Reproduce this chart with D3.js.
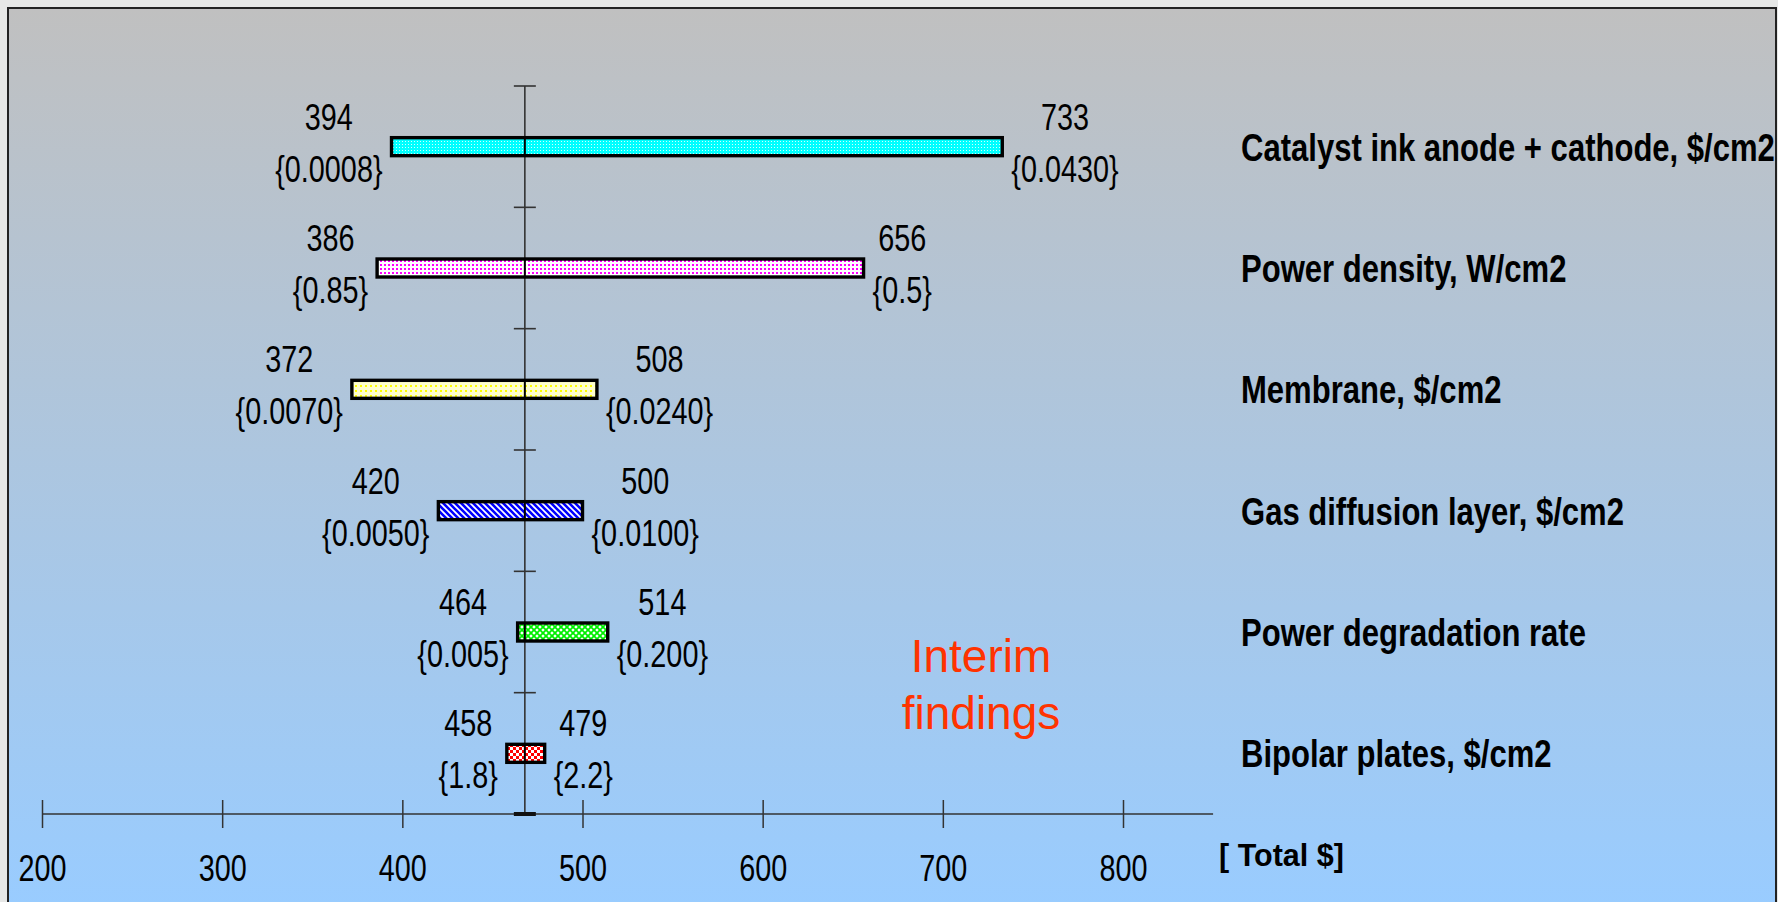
<!DOCTYPE html>
<html>
<head>
<meta charset="utf-8">
<script src="https://cdn.jsdelivr.net/npm/d3@7"></script>
<style>
  html, body { margin: 0; padding: 0; background: #e6e7e6; }
  svg { display: block; }
</style>
</head>
<body>
<svg id="chart"></svg>
<script>
// categories, top to bottom
var categories = ["Catalyst ink anode + cathode, $/cm2", "Power density, W/cm2", "Membrane, $/cm2",
    "Gas diffusion layer, $/cm2", "Power degradation rate", "Bipolar plates, $/cm2"];

// total $ at the low and high end of each input range
var lowValues = [394, 386, 372, 420, 464, 458];
var highValues = [733, 656, 508, 500, 514, 479];

// the input value that gives each end
var lowLabels = ["{0.0008}", "{0.85}", "{0.0070}", "{0.0050}", "{0.005}", "{1.8}"];
var highLabels = ["{0.0430}", "{0.5}", "{0.0240}", "{0.0100}", "{0.200}", "{2.2}"];

var baseValue = 468;
var xTicks = [200, 300, 400, 500, 600, 700, 800];
var axisEnd = 850;

var patternIds = ["pCyan", "pMagenta", "pYellow", "pBlue", "pGreen", "pRed"];

var sans = "'Liberation Sans', Arial, sans-serif";
var squeeze = 0.8; // no Arial Narrow here, so squeeze Liberation Sans

var width = 1778,
    height = 902;

// squeeze text horizontally to look like a narrow face
function narrow(sel) {
    sel.each(function () {
        var w = this.getComputedTextLength();
        d3.select(this)
            .attr("textLength", w * squeeze)
            .attr("lengthAdjust", "spacingAndGlyphs");
    });
}

var svg = d3.select("#chart")
    .attr("width", width)
    .attr("height", height);

var defs = svg.append("defs");

// background gradient grey -> light blue
var grad = defs.append("linearGradient")
    .attr("id", "bg")
    .attr("x1", 0).attr("y1", 0).attr("x2", 0).attr("y2", 1);
grad.append("stop").attr("offset", "0%").attr("stop-color", "#c0c0c0");
grad.append("stop").attr("offset", "100%").attr("stop-color", "#99ccff");

// fill patterns of the bars
function pattern(id, size, bg) {
    var p = defs.append("pattern")
        .attr("id", id)
        .attr("patternUnits", "userSpaceOnUse")
        .attr("width", size)
        .attr("height", size);
    p.append("rect").attr("width", size).attr("height", size).attr("fill", bg);
    return p;
}

var pc = pattern("pCyan", 3, "#00ffff");
pc.append("rect").attr("width", 1).attr("height", 1).attr("fill", "#ccffff");

var pm = pattern("pMagenta", 4, "#ffffff");
pm.append("rect").attr("width", 2).attr("height", 2).attr("fill", "#ff00ff");

var py = pattern("pYellow", 5, "#ffffcc");
py.append("rect").attr("width", 2).attr("height", 2).attr("fill", "#ffff00");

var pb = pattern("pBlue", 6, "#ffffff");
pb.append("path").attr("d", "M-1,-1 L7,7 M-4,2 L4,10 M2,-4 L10,4")
    .attr("stroke", "#0000ff").attr("stroke-width", 2.6);

var pg = pattern("pGreen", 6, "#ffffff");
pg.append("path").attr("d", "M0,0 L6,6 M6,0 L0,6")
    .attr("stroke", "#00ee00").attr("stroke-width", 1.8);

var pr = pattern("pRed", 6, "#ffffff");
pr.append("rect").attr("width", 3).attr("height", 3).attr("fill", "#ff0000");
pr.append("rect").attr("x", 3).attr("y", 3).attr("width", 3).attr("height", 3).attr("fill", "#ff0000");

// frame
svg.append("rect")
    .attr("x", 8).attr("y", 8)
    .attr("width", 1768).attr("height", 900)
    .attr("fill", "url(#bg)")
    .attr("stroke", "#222")
    .attr("stroke-width", 2);

var xScale = d3.scaleLinear()
    .domain([200, 800])
    .range([42, 1123]);

var yScale = d3.scaleBand()
    .domain(categories)
    .range([86, 814]);

var chartGroup = svg.append("g");

// x axis
var xAxis = d3.axisBottom(xScale)
    .tickValues(xTicks)
    .tickSize(14)
    .tickFormat(d3.format("d"));

var axisG = chartGroup.append("g")
    .attr("transform", "translate(0," + yScale.range()[1] + ")")
    .call(xAxis);
axisG.select(".domain").remove();
axisG.selectAll(".tick line")
    .attr("y1", -14)
    .attr("stroke", "#333")
    .attr("stroke-width", 1.5);
axisG.selectAll(".tick text")
    .attr("y", 67)
    .attr("dy", 0)
    .attr("fill", "#000")
    .style("font-family", sans)
    .style("font-size", "36px")
    .call(narrow);

chartGroup.append("line")
    .attr("x1", xScale(200))
    .attr("x2", xScale(axisEnd))
    .attr("y1", yScale.range()[1])
    .attr("y2", yScale.range()[1])
    .attr("stroke", "#333")
    .attr("stroke-width", 1.6);

// vertical base line with band ticks
var cx = xScale(baseValue);
chartGroup.append("line")
    .attr("x1", cx).attr("x2", cx)
    .attr("y1", yScale.range()[0])
    .attr("y2", yScale.range()[1])
    .attr("stroke", "#333")
    .attr("stroke-width", 1.6);

var bounds = categories.map(function (c) { return yScale(c); });
chartGroup.selectAll("line.band-tick")
    .data(bounds)
    .join("line")
    .attr("class", "band-tick")
    .attr("x1", cx - 11).attr("x2", cx + 11)
    .attr("y1", d => d).attr("y2", d => d)
    .attr("stroke", "#333")
    .attr("stroke-width", 1.6);

chartGroup.append("line")
    .attr("x1", cx - 11).attr("x2", cx + 11)
    .attr("y1", yScale.range()[1]).attr("y2", yScale.range()[1])
    .attr("stroke", "#111")
    .attr("stroke-width", 4);

var rows = categories.map(function (c, i) {
    return {
        cat: c,
        lo: Math.min(lowValues[i], highValues[i]),
        hi: Math.max(lowValues[i], highValues[i]),
        lowLabel: lowLabels[i],
        highLabel: highLabels[i],
        pat: patternIds[i]
    };
});

function mid(d) { return yScale(d.cat) + yScale.bandwidth() / 2; }

var barH = 18;

// bars
var barG = chartGroup.append("g");
barG.selectAll("rect")
    .data(rows)
    .join("rect")
    .attr("x", d => xScale(d.lo))
    .attr("y", d => mid(d) - barH / 2)
    .attr("width", d => xScale(d.hi) - xScale(d.lo))
    .attr("height", barH)
    .attr("fill", d => "url(#" + d.pat + ")")
    .attr("stroke", "#000")
    .attr("stroke-width", 3.4);

// base line over the bars
barG.selectAll("line")
    .data(rows)
    .join("line")
    .attr("x1", cx).attr("x2", cx)
    .attr("y1", d => mid(d) - barH / 2)
    .attr("y2", d => mid(d) + barH / 2)
    .attr("stroke", "#000")
    .attr("stroke-width", 2);

// value labels
var labelG = chartGroup.append("g")
    .style("font-family", sans)
    .style("font-size", "36px")
    .attr("fill", "#000");

rows.forEach(function (d) {
    var y = mid(d);
    // left end
    var lb = labelG.append("text")
        .attr("x", xScale(d.lo) - 9)
        .attr("y", y + 35)
        .attr("text-anchor", "end")
        .text(d.lowLabel)
        .call(narrow);
    var lw = lb.node().getComputedTextLength();
    labelG.append("text")
        .attr("x", xScale(d.lo) - 9 - lw / 2)
        .attr("y", y - 17)
        .attr("text-anchor", "middle")
        .text(d.lo)
        .call(narrow);
    // right end
    var rb = labelG.append("text")
        .attr("x", xScale(d.hi) + 9)
        .attr("y", y + 35)
        .attr("text-anchor", "start")
        .text(d.highLabel)
        .call(narrow);
    var rw = rb.node().getComputedTextLength();
    labelG.append("text")
        .attr("x", xScale(d.hi) + 9 + rw / 2)
        .attr("y", y - 17)
        .attr("text-anchor", "middle")
        .text(d.hi)
        .call(narrow);
});

// category names on the right
chartGroup.append("g")
    .selectAll("text")
    .data(rows)
    .join("text")
    .attr("x", 1241)
    .attr("y", d => mid(d) + 14)
    .style("font-family", sans)
    .style("font-size", "38.8px")
    .style("font-weight", "bold")
    .attr("fill", "#000")
    .text(d => d.cat)
    .call(narrow);

svg.append("text")
    .attr("x", 1219)
    .attr("y", 866)
    .style("font-family", sans)
    .style("font-size", "30.5px")
    .style("font-weight", "bold")
    .attr("fill", "#000")
    .text("[ Total $]");

var note = svg.append("text")
    .attr("text-anchor", "middle")
    .style("font-family", sans)
    .style("font-size", "46px")
    .attr("fill", "#ff3300");
note.append("tspan").attr("x", 981).attr("y", 672).text("Interim");
note.append("tspan").attr("x", 981).attr("y", 729).text("findings");
</script>
</body>
</html>
